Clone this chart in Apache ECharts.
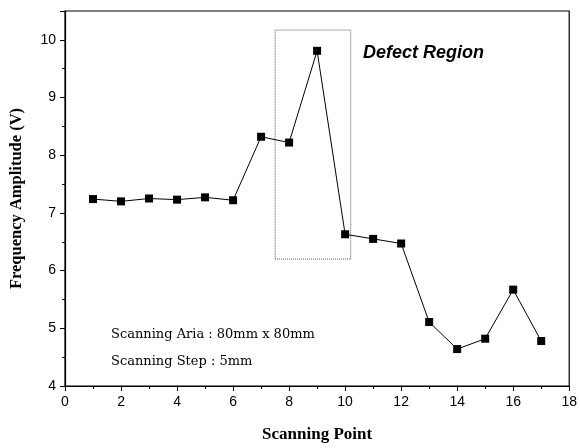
<!DOCTYPE html>
<html>
<head>
<meta charset="utf-8">
<script src="https://cdn.jsdelivr.net/npm/echarts@6/dist/echarts.min.js"></script>
<style>
  html, body { margin: 0; padding: 0; background: #fff; }
  #chart { width: 580px; height: 448px; }
</style>
</head>
<body>
<div id="chart"></div>
<script>
// scanning points and measured amplitude
const points = [1, 2, 3, 4, 5, 6, 7, 8, 9, 10, 11, 12, 13, 14, 15, 16, 17];
const amplitude = [7.24, 7.20, 7.25, 7.23, 7.27, 7.22, 8.32, 8.22, 9.81, 6.63, 6.55, 6.47, 5.11, 4.64, 4.82, 5.67, 4.78];
// defect region box [x0, y0] - [x1, y1]
const defectBox = [[7.5, 6.2], [10.2, 10.17]];

const chart = echarts.init(document.getElementById('chart'));

const axisText = { color: '#000', fontFamily: 'Liberation Sans, Arial, sans-serif', fontSize: 14 };
const titleText = { color: '#000', fontFamily: 'Liberation Serif, Times New Roman, serif', fontWeight: 'bold', fontSize: 17 };

chart.setOption({
  animation: false,
  grid: {
    left: 65, right: 7, top: 11, bottom: 61,
    show: true, borderColor: '#000', borderWidth: 1.2
  },
  xAxis: {
    type: 'value',
    min: 0, max: 18, interval: 2,
    name: 'Scanning Point',
    nameLocation: 'middle',
    nameGap: 40,
    nameTextStyle: titleText,
    axisLine: { onZero: false, lineStyle: { color: '#000', width: 1.2 } },
    axisTick: { length: 5, lineStyle: { color: '#000' } },
    minorTick: { show: true, splitNumber: 2, length: 3, lineStyle: { color: '#000' } },
    axisLabel: Object.assign({ margin: 9 }, axisText),
    splitLine: { show: false }
  },
  yAxis: {
    type: 'value',
    min: 4, max: 10.5, interval: 1,
    name: 'Frequency Amplitude (V)',
    nameLocation: 'middle',
    nameGap: 40,
    nameTextStyle: Object.assign({}, titleText, { fontSize: 16.5 }),
    axisLine: { onZero: false, lineStyle: { color: '#000', width: 1.2 } },
    axisTick: { length: 5, lineStyle: { color: '#000' } },
    minorTick: { show: true, splitNumber: 2, length: 3, lineStyle: { color: '#000' } },
    axisLabel: Object.assign({ margin: 9, showMaxLabel: false }, axisText),
    splitLine: { show: false }
  },
  series: [{
    type: 'line',
    data: points.map((p, i) => [p, amplitude[i]]),
    symbol: 'rect',
    symbolSize: 8,
    lineStyle: { color: '#000', width: 1 },
    itemStyle: { color: '#000' },
    markArea: {
      silent: true,
      itemStyle: { color: 'rgba(0,0,0,0)', borderColor: '#555', borderWidth: 1, borderType: 'dotted' },
      data: [[{ coord: defectBox[0] }, { coord: defectBox[1] }]]
    }
  }],
  graphic: [
    {
      type: 'text', left: 363, top: 44,
      style: { text: 'Defect Region', fill: '#000', font: 'italic bold 18px Liberation Sans, Arial, sans-serif' }
    },
    {
      type: 'text', left: 111, top: 328,
      style: { text: 'Scanning Aria : 80mm x 80mm', fill: '#000', font: '13px DejaVu Serif, serif' }
    },
    {
      type: 'text', left: 111, top: 355,
      style: { text: 'Scanning Step : 5mm', fill: '#000', font: '13px DejaVu Serif, serif' }
    }
  ]
});
</script>
</body>
</html>
